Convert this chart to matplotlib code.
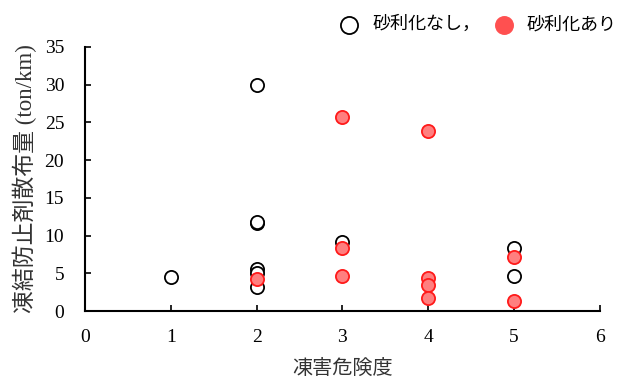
import matplotlib
matplotlib.use("Agg")
import matplotlib.pyplot as plt

plt.rcParams['font.family'] = ['Liberation Serif', 'Noto Sans CJK JP']

# 凍害危険度ごとの凍結防止剤散布量
x_nashi = [1, 2, 2, 2, 2, 2, 2, 3, 5, 5]
y_nashi = [4.5, 30.0, 11.7, 11.8, 5.6, 5.0, 3.2, 9.2, 8.3, 4.6]
x_ari = [2, 3, 3, 3, 4, 4, 4, 4, 5, 5]
y_ari = [4.3, 25.7, 8.3, 4.7, 23.9, 4.4, 3.5, 1.8, 7.1, 1.4]

fig = plt.figure(figsize=(6.3, 3.78), dpi=100)
ax = fig.add_axes([0.135, 0.177, 0.817, 0.699])

ax.scatter(x_nashi, y_nashi, s=90, facecolor='white', edgecolor='black',
           linewidth=1.3, label='砂利化なし，', zorder=2)
ax.scatter(x_ari, y_ari, s=90, facecolor='#ff7f7f', edgecolor='#ff1a1a',
           linewidth=1.3, label='砂利化あり', zorder=3)

ax.set_xlim(0, 6)
ax.set_ylim(0, 35)
ax.set_xticks(range(0, 7))
ax.set_yticks(range(0, 36, 5))
ax.tick_params(direction='in', labelsize=14, length=4, width=1.2)
ax.tick_params(axis='x', pad=13)
ax.tick_params(axis='y', pad=15)
for s in ['top', 'right']:
    ax.spines[s].set_visible(False)
for s in ['left', 'bottom']:
    ax.spines[s].set_linewidth(1.5)

ax.set_xlabel('凍害危険度', fontsize=14.5, color='#333333')
ax.set_ylabel('凍結防止剤散布量 (ton/km)', fontsize=16.5, color='#333333')
ax.xaxis.set_label_coords(0.5, -0.183)
ax.yaxis.set_label_coords(-0.093, 0.5)

leg = fig.legend(loc='center right', bbox_to_anchor=(617 / 630, 0.935), ncol=2,
                 frameon=False, fontsize=13, handletextpad=0.3,
                 columnspacing=0.3, borderaxespad=0, borderpad=0,
                 markerscale=1.3)
leg.legend_handles[1].set_facecolor('#ff5050')
leg.legend_handles[1].set_edgecolor('#ff5050')

fig.savefig('out.png', dpi=100)
